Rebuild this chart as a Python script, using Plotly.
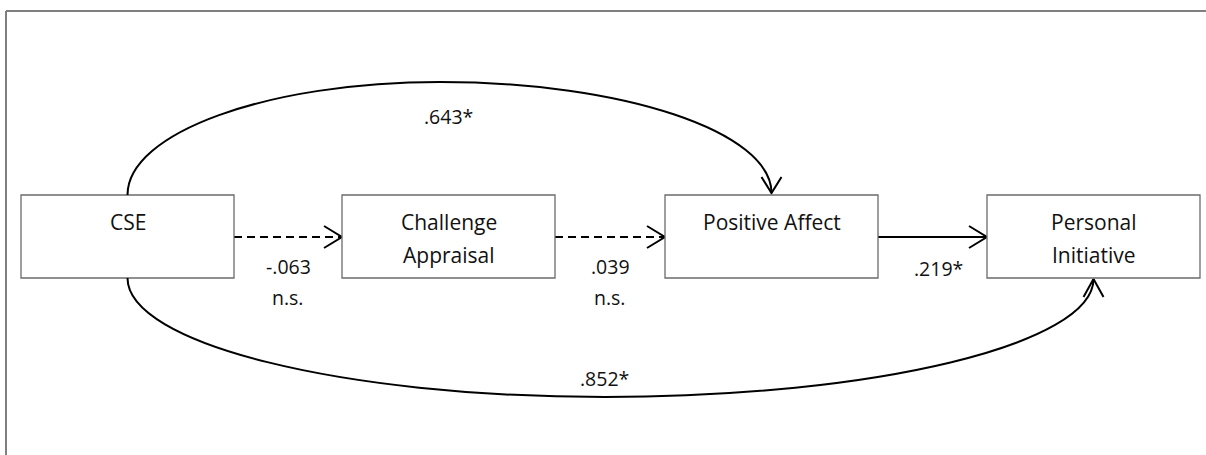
import plotly.graph_objects as go

# ---------------- data ----------------
node_names = ["CSE", "Challenge Appraisal", "Positive Affect", "Personal Initiative"]
node_lines = [["CSE"], ["Challenge", "Appraisal"], ["Positive Affect"], ["Personal", "Initiative"]]

path_from = ["CSE", "Challenge Appraisal", "Positive Affect", "CSE", "CSE"]
path_to = ["Challenge Appraisal", "Positive Affect", "Personal Initiative", "Positive Affect", "Personal Initiative"]
path_coef = ["-.063", ".039", ".219*", ".643*", ".852*"]
path_sig = ["n.s.", "n.s.", "", "", ""]
path_significant = [False, False, True, True, True]

# ---------------- layout (pixel canvas) ----------------
W, H = 1206, 455
box_left = [21, 342, 665, 987]
box_w = 213
box_top, box_bot = 195, 278
mid_y = 237
FONT = "Open Sans"
BOX_FS = 21
LBL_FS = 19.5
TXT = "#111111"

fig = go.Figure()
shapes = []
annotations = []

# outer frame (only top and left visible in the reference)
shapes.append(dict(type="line", x0=6, y0=11, x1=W + 5, y1=11, line=dict(color="#7f7f7f", width=2)))
shapes.append(dict(type="line", x0=6, y0=11, x1=6, y1=H + 5, line=dict(color="#7f7f7f", width=2)))

# boxes and their text
for i, name in enumerate(node_names):
    x0 = box_left[i]
    shapes.append(dict(type="rect", x0=x0, y0=box_top, x1=x0 + box_w, y1=box_bot,
                       line=dict(color="#6b6b6b", width=1.3), fillcolor="white", layer="above"))
    cx = x0 + box_w / 2
    for j, line in enumerate(node_lines[i]):
        annotations.append(dict(x=cx, y=222 + 33 * j, text=line, showarrow=False,
                                xanchor="center", yanchor="middle",
                                font=dict(family=FONT, size=BOX_FS, color=TXT)))

def chevron(tx, ty, dx, dy, back=18, half=11):
    # open arrowhead with tip (tx,ty), direction (dx,dy)
    n = (dx * dx + dy * dy) ** 0.5
    ux, uy = dx / n, dy / n
    px, py = -uy, ux
    bx, by = tx - ux * back, ty - uy * back
    return ([bx + px * half, tx, bx - px * half], [by + py * half, ty, by - py * half])

def add_line(xs, ys, dash="solid"):
    fig.add_trace(go.Scatter(x=xs, y=ys, mode="lines", hoverinfo="skip",
                             line=dict(color="black", width=2, dash=dash), showlegend=False))

idx = {n: i for i, n in enumerate(node_names)}

for k in range(len(path_from)):
    a, b = idx[path_from[k]], idx[path_to[k]]
    dash = "solid" if path_significant[k] else "8px,5px"
    if b == a + 1:
        x0 = box_left[a] + box_w
        x1 = box_left[b]
        add_line([x0, x1 - 1], [mid_y, mid_y], dash)
        cx_, cy_ = chevron(x1, mid_y, 1, 0)
        add_line(cx_, cy_)
        lx = (x0 + x1) / 2 + (0 if path_sig[k] else 6)
        annotations.append(dict(x=lx, y=266 if path_sig[k] else 268, text=path_coef[k], showarrow=False,
                                font=dict(family=FONT, size=LBL_FS, color=TXT)))
        if path_sig[k]:
            annotations.append(dict(x=lx, y=297, text=path_sig[k], showarrow=False,
                                    font=dict(family=FONT, size=LBL_FS, color=TXT)))
    else:
        sx = box_left[a] + box_w / 2
        tx = box_left[b] + box_w / 2
        k_ = 0.5523
        if b == 2:
            # upper arc
            py_ = 82
            px_ = 440
            sy, ty = box_top, box_top - 2
            d = (f"M {sx},{sy} C {sx},{sy - k_ * (sy - py_)} {px_ - k_ * (px_ - sx)},{py_} {px_},{py_} "
                 f"C {px_ + k_ * (tx - px_)},{py_} {tx},{ty - k_ * (ty - py_)} {tx},{ty}")
            shapes.append(dict(type="path", path=d, line=dict(color="black", width=2)))
            cx_, cy_ = chevron(tx, ty, 0, 1, back=16, half=10)
            add_line(cx_, cy_)
            annotations.append(dict(x=448, y=116, text=path_coef[k], showarrow=False,
                                    font=dict(family=FONT, size=LBL_FS, color=TXT)))
        else:
            # lower arc
            py_ = 397
            px_ = 605
            sy, ty = box_bot, box_bot + 1
            d = (f"M {sx},{sy} C {sx},{sy + k_ * (py_ - sy)} {px_ - k_ * (px_ - sx)},{py_} {px_},{py_} "
                 f"C {px_ + k_ * (tx - px_)},{py_} {tx},{ty + k_ * (py_ - ty)} {tx},{ty}")
            shapes.append(dict(type="path", path=d, line=dict(color="black", width=2)))
            cx_, cy_ = chevron(tx, ty, 0, -1, back=18, half=10)
            add_line(cx_, cy_)
            annotations.append(dict(x=604, y=378, text=path_coef[k], showarrow=False,
                                    font=dict(family=FONT, size=LBL_FS, color=TXT)))

fig.update_layout(
    width=W, height=H,
    margin=dict(l=0, r=0, t=0, b=0),
    paper_bgcolor="white", plot_bgcolor="white",
    xaxis=dict(range=[0, W], visible=False, fixedrange=True),
    yaxis=dict(range=[H, 0], visible=False, fixedrange=True),
    shapes=shapes, annotations=annotations,
    showlegend=False,
)
fig.write_html("out.html", config={"displayModeBar": False},
               post_script="document.body.style.margin='0';document.body.style.overflow='hidden';")
